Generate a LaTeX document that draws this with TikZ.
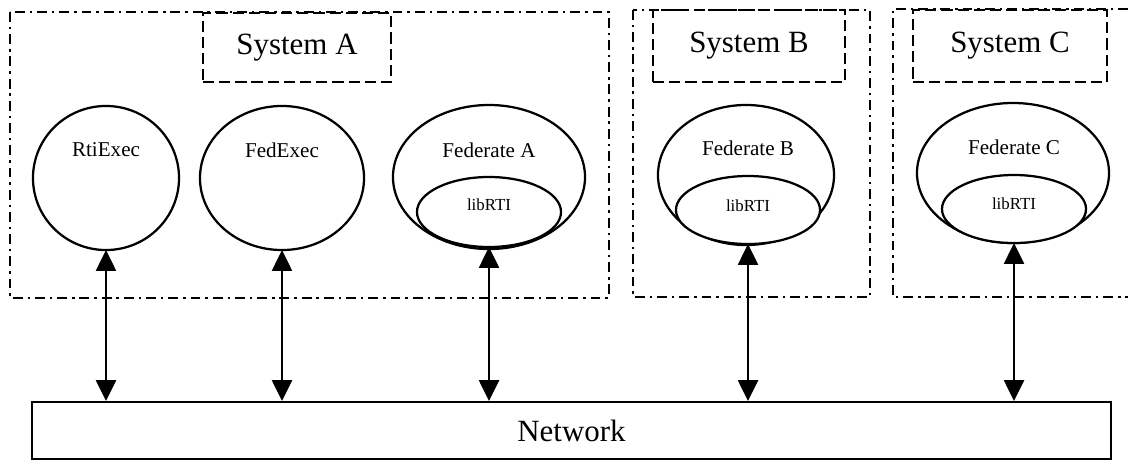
\documentclass[tikz,border=0pt]{standalone}
\usepackage{fontspec}
\setmainfont{Liberation Serif}
\usepackage{tikz}
\usetikzlibrary{shapes.geometric,arrows.meta}

\begin{document}
\begin{tikzpicture}[x=0.025cm, y=-0.025cm,
    sysframe/.style={line width=1.3pt, dash pattern=on 7pt off 3.5pt on 1.8pt off 3.5pt},
    tagbox/.style={draw, line width=1.3pt, dash pattern=on 8pt off 3.5pt, inner sep=0pt,
        font=\fontsize{22}{26}\selectfont},
    proc/.style={draw, ellipse, line width=1.6pt, inner sep=0pt, outer sep=0pt},
    lib/.style={draw, ellipse, line width=1.6pt, fill=white, inner sep=0pt, outer sep=0pt,
        minimum width=3.6cm},
    proctxt/.style={font=\fontsize{15}{18}\selectfont},
    libtxt/.style={font=\fontsize{12}{14}\selectfont},
    link/.style={line width=1.4pt, {Triangle[length=0.52cm, width=0.5cm]}-{Triangle[length=0.52cm, width=0.5cm]}}]
    \useasboundingbox (0,0) rectangle (1128,463);

    % Draw the system frames
    \draw[sysframe] (10,12) rectangle (609,298);
    \draw[sysframe] (633,10) rectangle (870,297);
    \draw[sysframe] (1128,9) -| (893,297) -- (1128,297);

    % Draw the system labels
    \node[tagbox, minimum width=4.7cm, minimum height=1.725cm] (tagA) at (297,47.5) {System A};
    \node[tagbox, minimum width=4.8cm, minimum height=1.8cm] (tagB) at (749,46) {System B};
    \node[tagbox, minimum width=4.85cm, minimum height=1.8cm] (tagC) at (1010,46) {System C};

    % Draw the processes
    \node[proc, minimum width=3.65cm, minimum height=3.6cm] (rti) at (106,178) {};
    \node[proctxt] (rtitxt) at (106,150) {RtiExec};
    \node[proc, minimum width=4.1cm, minimum height=3.6cm] (fed) at (282,178) {};
    \node[proctxt] (fedtxt) at (282,150) {FedExec};

    % Draw the federates with their libRTI
    \node[proc, minimum width=4.8cm, minimum height=3.6cm] (fA) at (489,177) {};
    \node[proctxt] (fAtxt) at (489,150) {Federate A};
    \node[lib, minimum height=1.75cm] (libA) at (489,212) {};
    \node[libtxt] (libAtxt) at (489,205) {libRTI};

    \node[proc, minimum width=4.4cm, minimum height=3.5cm] (fB) at (746,175) {};
    \node[proctxt] (fBtxt) at (748,148) {Federate B};
    \node[lib, minimum height=1.7cm] (libB) at (748,210) {};
    \node[libtxt] (libBtxt) at (748,206) {libRTI};

    \node[proc, minimum width=4.8cm, minimum height=3.5cm] (fC) at (1013,173) {};
    \node[proctxt] (fCtxt) at (1014,147) {Federate C};
    \node[lib, minimum height=1.7cm] (libC) at (1014,209) {};
    \node[libtxt] (libCtxt) at (1014,204) {libRTI};

    % Draw the network
    \node[draw, line width=1.4pt, minimum width=26.975cm, minimum height=1.425cm,
        font=\fontsize{22}{26}\selectfont] (net) at (571.5,430.5) {Network};

    % Draw the links to the network
    \draw[link] (rti.south) -- (rti.south |- net.north);
    \draw[link] (fed.south) -- (fed.south |- net.north);
    \draw[link] (libA.south) -- (libA.south |- net.north);
    \draw[link] (libB.south) -- (libB.south |- net.north);
    \draw[link] (libC.south) -- (libC.south |- net.north);
\end{tikzpicture}
\end{document}
